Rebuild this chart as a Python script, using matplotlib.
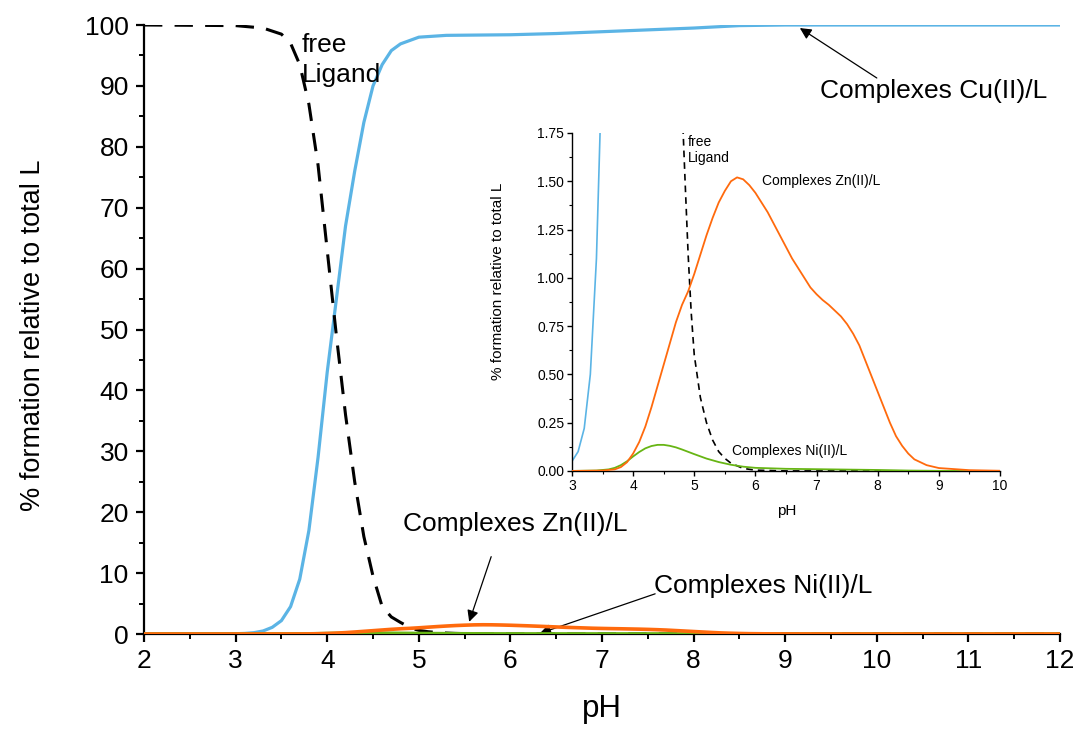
import matplotlib
matplotlib.use("Agg")
import matplotlib.pyplot as plt
from matplotlib.ticker import MultipleLocator, FormatStrFormatter

plt.rcParams['font.family'] = ['Liberation Sans', 'DejaVu Sans']

# ---------------- data ----------------
cu_ph = [2.0, 3.0, 3.1, 3.2, 3.3, 3.4, 3.5, 3.6, 3.7, 3.8, 3.9, 4.0, 4.1, 4.2, 4.3,
         4.4, 4.5, 4.6, 4.7, 4.8, 5.0, 5.3, 6.0, 6.5, 7.0, 7.5, 8.0, 8.5, 9.0, 12.0]
cu_val = [0.0, 0.05, 0.1, 0.22, 0.5, 1.1, 2.2, 4.5, 9.0, 17.0, 29.0, 43.0, 55.0, 67.0, 76.0,
          84.0, 90.0, 93.5, 95.8, 96.9, 98.0, 98.3, 98.4, 98.6, 98.9, 99.2, 99.5, 99.9, 100.0, 100.0]

lig_ph = [2.0, 3.0, 3.3, 3.5, 3.6, 3.7, 3.8, 3.9, 4.0, 4.1, 4.2, 4.3, 4.4, 4.5, 4.6,
          4.7, 4.8, 4.85, 4.9, 4.95, 5.0, 5.1, 5.2, 5.3, 5.4, 5.5, 5.6, 5.8, 6.0, 6.5, 12.0]
lig_val = [100.0, 99.9, 99.5, 98.5, 97.0, 93.5, 87.0, 77.0, 63.0, 49.0, 36.0, 25.0, 16.0, 9.5, 4.5,
           2.8, 1.9, 1.5, 1.12, 0.82, 0.6, 0.38, 0.25, 0.16, 0.1, 0.065, 0.04, 0.013, 0.004, 0.0, 0.0]

zn_ph = [2.0, 3.0, 3.5, 3.7, 3.8, 3.9, 4.0, 4.1, 4.2, 4.3, 4.4, 4.5, 4.6, 4.7, 4.8, 4.9,
         5.0, 5.1, 5.2, 5.3, 5.4, 5.5, 5.6, 5.7, 5.8, 5.9, 6.0, 6.1, 6.2, 6.3, 6.4, 6.5,
         6.6, 6.7, 6.8, 6.9, 7.0, 7.1, 7.2, 7.3, 7.4, 7.5, 7.6, 7.7, 7.8, 7.9, 8.0, 8.1,
         8.2, 8.3, 8.4, 8.5, 8.6, 8.8, 9.0, 9.5, 10.0, 12.0]
zn_val = [0.0, 0.0, 0.002, 0.008, 0.02, 0.045, 0.09, 0.15, 0.23, 0.33, 0.44, 0.55, 0.66, 0.77, 0.86, 0.93,
          1.02, 1.12, 1.22, 1.31, 1.39, 1.45, 1.50, 1.52, 1.51, 1.48, 1.44, 1.39, 1.34, 1.28, 1.22, 1.16,
          1.10, 1.05, 1.00, 0.95, 0.915, 0.885, 0.86, 0.83, 0.80, 0.76, 0.71, 0.65, 0.57, 0.49, 0.41, 0.33,
          0.25, 0.18, 0.13, 0.09, 0.06, 0.03, 0.015, 0.004, 0.001, 0.0]

ni_ph = [2.0, 3.0, 3.4, 3.6, 3.7, 3.8, 3.9, 4.0, 4.1, 4.2, 4.3, 4.4, 4.5, 4.6, 4.7, 4.8,
         4.9, 5.0, 5.2, 5.4, 5.6, 5.8, 6.0, 6.5, 7.0, 7.5, 8.0, 8.5, 9.0, 10.0, 12.0]
ni_val = [0.0, 0.0, 0.002, 0.008, 0.016, 0.03, 0.05, 0.075, 0.098, 0.117, 0.129, 0.135, 0.135, 0.13, 0.122, 0.111,
          0.099, 0.087, 0.064, 0.046, 0.032, 0.022, 0.016, 0.011, 0.009, 0.007, 0.005, 0.002, 0.0005, 0.0, 0.0]

c_cu = '#5BB4E5'
c_zn = '#FF6A0D'
c_ni = '#67B514'

# ---------------- figure ----------------
fig = plt.figure(figsize=(10.78, 7.29), dpi=100)
ax = fig.add_axes([0.1336, 0.1303, 0.8497, 0.8354])

ax.plot(cu_ph, cu_val, color=c_cu, lw=2.3, zorder=2)
ax.plot(lig_ph, lig_val, color='black', lw=2.2, ls=(0, (6, 4)), zorder=3)
ax.plot(ni_ph, ni_val, color=c_ni, lw=2.6, zorder=4)
ax.plot(zn_ph, zn_val, color=c_zn, lw=2.6, zorder=5)

ax.set_xlim(2, 12)
ax.set_ylim(0, 100)
ax.xaxis.set_major_locator(MultipleLocator(1))
ax.xaxis.set_minor_locator(MultipleLocator(0.5))
ax.yaxis.set_major_locator(MultipleLocator(10))
ax.yaxis.set_minor_locator(MultipleLocator(5))
for s in ['top', 'right']:
    ax.spines[s].set_visible(False)
for s in ['left', 'bottom']:
    ax.spines[s].set_linewidth(1.6)
ax.tick_params(which='major', direction='out', length=6, width=1.6, labelsize=19, pad=5)
ax.tick_params(which='minor', direction='out', length=3.5, width=1.4)
ax.set_xlabel('pH', fontsize=22.5)
ax.xaxis.set_label_coords(0.5, -0.0985)
ax.set_ylabel('% formation relative to total L', fontsize=19.5)
ax.yaxis.set_label_coords(-0.107, 0.49)

ax.text(3.72, 95.6, 'free', fontsize=19, va='baseline', ha='left')
ax.text(3.72, 90.7, 'Ligand', fontsize=19, va='baseline', ha='left')

arrow_kw = dict(arrowstyle='-|>', color='black', lw=0.9, mutation_scale=17, shrinkA=0, shrinkB=0)
ax.text(9.38, 89.2, 'Complexes Cu(II)/L', fontsize=19, va='center', ha='left')
ax.annotate('', xy=(9.16, 99.5), xytext=(10.0, 91.3), arrowprops=arrow_kw)
ax.text(4.83, 18.0, 'Complexes Zn(II)/L', fontsize=19, va='center', ha='left')
ax.annotate('', xy=(5.55, 2.0), xytext=(5.79, 12.7), arrowprops=arrow_kw)
ax.text(7.57, 7.9, 'Complexes Ni(II)/L', fontsize=19, va='center', ha='left')
ax.annotate('', xy=(6.32, 0.1), xytext=(7.58, 6.6), arrowprops=arrow_kw)

# ---------------- inset ----------------
ins = fig.add_axes([0.5306, 0.354, 0.397, 0.4636])
ins.plot(cu_ph, cu_val, color=c_cu, lw=1.2, zorder=2)
ins.plot(lig_ph, lig_val, color='black', lw=1.2, ls=(0, (4, 3)), zorder=3)
ins.plot(ni_ph, ni_val, color=c_ni, lw=1.3, zorder=4)
ins.plot(zn_ph, zn_val, color=c_zn, lw=1.3, zorder=5)
ins.set_xlim(3, 10)
ins.set_ylim(0, 1.75)
ins.xaxis.set_major_locator(MultipleLocator(1))
ins.xaxis.set_minor_locator(MultipleLocator(0.5))
ins.yaxis.set_major_locator(MultipleLocator(0.25))
ins.yaxis.set_minor_locator(MultipleLocator(0.125))
ins.yaxis.set_major_formatter(FormatStrFormatter('%.2f'))
for s in ['top', 'right']:
    ins.spines[s].set_visible(False)
for s in ['left', 'bottom']:
    ins.spines[s].set_linewidth(1.0)
ins.tick_params(which='major', direction='out', length=3.5, width=1.0, labelsize=10, pad=2)
ins.tick_params(which='minor', direction='out', length=2, width=0.8)
ins.set_xlabel('pH', fontsize=11)
ins.xaxis.set_label_coords(0.501, -0.097)
ins.set_ylabel('% formation relative to total L', fontsize=11)
ins.yaxis.set_label_coords(-0.157, 0.56)
ins.text(4.89, 1.738, 'free\nLigand', fontsize=10, va='top', ha='left', linespacing=1.2)
ins.text(6.10, 1.503, 'Complexes Zn(II)/L', fontsize=10, va='center', ha='left')
ins.text(5.61, 0.105, 'Complexes Ni(II)/L', fontsize=10, va='center', ha='left')

fig.savefig('out.png', dpi=100)
